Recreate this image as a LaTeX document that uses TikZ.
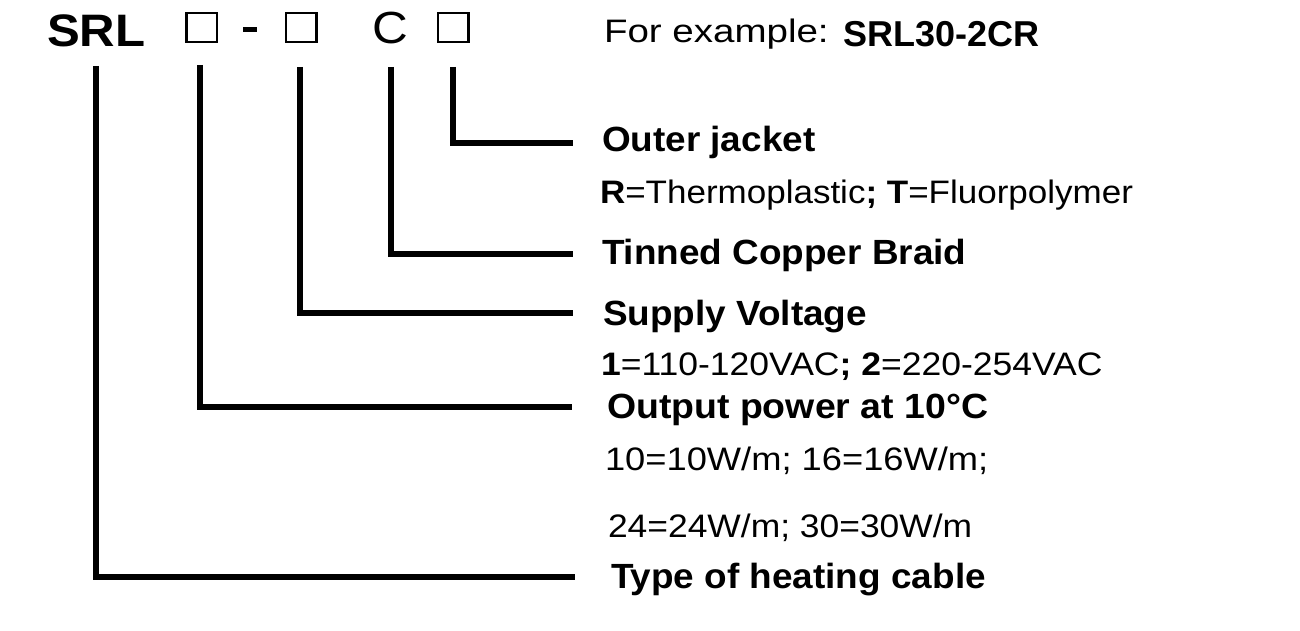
\documentclass[tikz,border=0pt]{standalone}
\usepackage{fontspec}
\usepackage{graphicx}
\setmainfont{Liberation Sans}
\newcommand{\hx}[2][1.055]{\scalebox{#1}[1]{\fontsize{35}{40}\selectfont\bfseries #2}}
\newcommand{\rx}[2][1.08]{\scalebox{#1}[1]{\fontsize{32.5}{38}\selectfont #2}}
\begin{document}
\begin{tikzpicture}[x=1pt,y=-1pt,
  lbl/.style={anchor=base west,inner sep=0pt,outer sep=0pt},
  sqbox/.style={draw,line width=2.5pt,minimum width=30.5pt,minimum height=29pt,inner sep=0pt,outer sep=0pt},
  leader/.style={line width=6pt,line join=miter,line cap=butt}]
\useasboundingbox (0,0) rectangle (1300,631);
\fill[white] (0,0) rectangle (1300,631);
% code row
\node[lbl] (srl) at (47,47) {\scalebox{1.08}[1]{\fontsize{45.5}{50}\selectfont\bfseries SRL}};
\node[sqbox] (s1) at (201.5,27.5) {};
\node[fill,minimum width=14pt,minimum height=5.5pt,inner sep=0pt,outer sep=0pt] (dash) at (250,29.5) {};
\node[sqbox] (s2) at (301,27.5) {};
\node[lbl] (c) at (372,44) {\scalebox{1.1}[1]{\fontsize{45}{50}\selectfont C}};
\node[sqbox] (s3) at (453,27.5) {};
% example
\node[lbl] (ex) at (604,43) {\rx[1.185]{For example:}};
\node[lbl] (exc) at (843.5,47) {\fontsize{36}{40}\selectfont\bfseries SRL30-2CR};
% labels
\node[lbl] (oj) at (602,152) {\hx{Outer jacket}};
\node[lbl] (ojd) at (600,204) {\rx[1.077]{\textbf{R}=Thermoplastic\textbf{;} \textbf{T}=Fluorpolymer}};
\node[lbl] (tb) at (602,264) {\hx{Tinned Copper Braid}};
\node[lbl] (sv) at (603,325) {\hx{Supply Voltage}};
\node[lbl] (svd) at (601,375) {\rx[1.093]{\textbf{1}=110-120VAC\textbf{;} \textbf{2}=220-254VAC}};
\node[lbl] (op) at (607,418) {\hx[1.07]{Output power at 10°C}};
\node[lbl] (opd1) at (605,470) {\rx[1.117]{10=10W/m; 16=16W/m;}};
\node[lbl] (opd2) at (608,537) {\rx[1.09]{24=24W/m; 30=30W/m}};
\node[lbl] (ty) at (611,588) {\hx{Type of heating cable}};
% leader coordinates
\coordinate (t1) at (96,66);   \coordinate (e1) at (575,577);
\coordinate (t2) at (200,65);  \coordinate (e2) at (572,407);
\coordinate (t3) at (300,67);  \coordinate (e3) at (573,313);
\coordinate (t4) at (391,67);  \coordinate (e4) at (573,254);
\coordinate (t5) at (453,67);  \coordinate (e5) at (573,143);
\draw[leader] (t1) |- (e1);
\draw[leader] (t2) |- (e2);
\draw[leader] (t3) |- (e3);
\draw[leader] (t4) |- (e4);
\draw[leader] (t5) |- (e5);
\end{tikzpicture}
\end{document}
